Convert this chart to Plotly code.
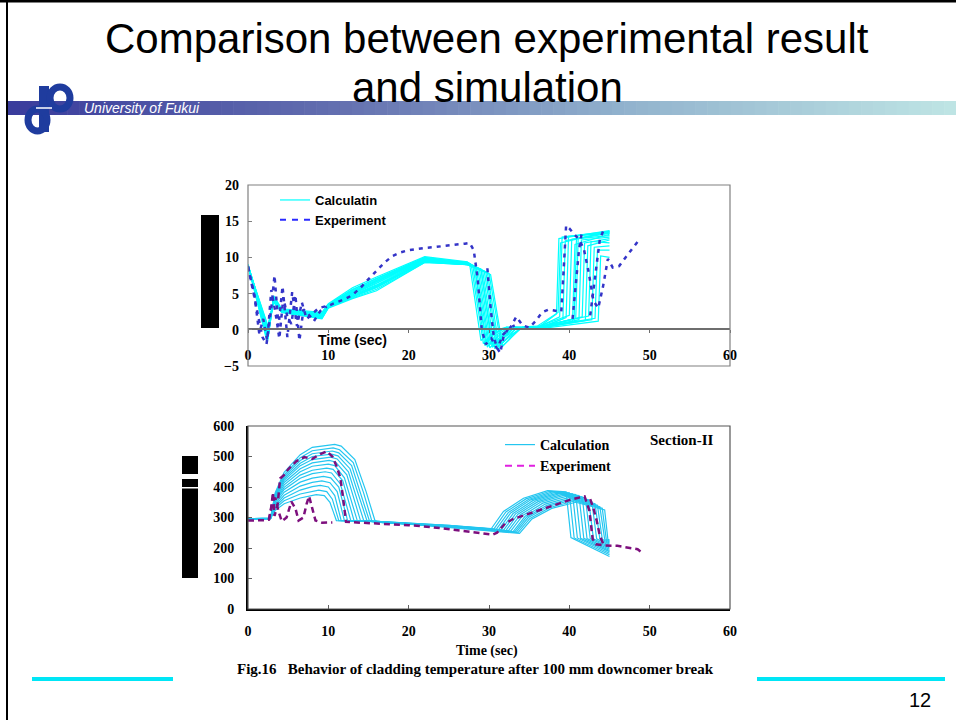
import plotly.graph_objects as go

# ------------------------------------------------------------------ data
time_ticks = [0, 10, 20, 30, 40, 50, 60]
top_ticks = [-5, 0, 5, 10, 15, 20]
bottom_ticks = [0, 100, 200, 300, 400, 500, 600]

# upper panel: calculated curves, (time, value) pairs
calc_top = [
    [(0, 9.0), (2.4, -1.8), (3.2, 4.7), (4.2, 2.9), (9.2, 2.4), (10, 3.6), (13, 5.8), (16, 7.3), (22, 10.1), (27.3, 9.4), (27.6, 9.0), (29.0, -1.5), (30.0, -0.3), (32, 0.3), (36, 0.2), (38.4, 2.2), (38.7, 12.6), (45, 13.7)],
    [(0, 8.9), (2.5, -1.2), (3.2, 4.5), (4.2, 2.8), (9.2, 2.2), (10, 3.5), (13, 5.5), (16, 7.1), (22, 10.0), (27.4, 9.3), (27.8, 8.9), (29.3, -1.9), (30.4, -0.5), (32, 0.2), (36, 0.3), (38.8, 1.8), (39.1, 12.8), (45, 13.6)],
    [(0, 8.8), (2.4, -0.8), (3.2, 4.4), (4.2, 2.7), (9.2, 2.0), (10, 3.4), (13, 5.2), (16, 6.8), (22, 9.8), (27.4, 9.3), (28.0, 8.8), (29.5, -2.2), (30.6, -0.6), (32.2, 0.4), (36, 0.2), (39.2, 1.5), (39.5, 12.3), (45, 13.5)],
    [(0, 8.9), (2.5, -0.4), (3.2, 4.3), (4.2, 2.6), (9.2, 1.9), (10, 3.3), (13, 5.0), (16, 6.5), (22, 9.7), (27.3, 9.2), (28.2, 8.7), (29.8, -2.4), (30.8, -0.8), (32.5, 0.3), (36, 0.1), (39.6, 1.7), (39.9, 12.9), (45, 13.4)],
    [(0, 9.0), (2.4, 0.0), (3.2, 4.2), (4.2, 2.6), (9.2, 1.8), (10, 3.2), (13, 4.8), (16, 6.2), (22, 9.6), (27.4, 9.2), (28.4, 8.6), (29.9, -2.0), (31.0, -1.0), (32.6, 0.2), (36, 0.4), (40.0, 2.0), (40.3, 12.5), (45, 13.3)],
    [(0, 8.8), (2.5, 0.3), (3.2, 4.0), (4.2, 2.5), (9.2, 1.7), (10, 3.1), (13, 4.6), (16, 6.0), (22, 9.5), (27.3, 9.1), (28.6, 8.5), (30.1, -2.5), (31.2, -1.2), (32.8, 0.3), (36, 0.2), (40.4, 1.2), (40.7, 11.8), (45, 13.2)],
    [(0, 8.9), (2.4, -1.5), (3.2, 4.6), (4.2, 2.8), (9.2, 2.3), (10, 3.5), (13, 5.6), (16, 7.0), (22, 9.9), (27.4, 9.3), (28.8, 8.4), (30.2, -2.0), (31.4, -1.5), (33.0, 0.2), (36, 0.3), (40.8, 1.6), (41.1, 12.6), (45, 13.0)],
    [(0, 9.0), (2.5, -1.0), (3.2, 4.4), (4.2, 2.7), (9.2, 2.1), (10, 3.4), (13, 5.3), (16, 6.7), (22, 9.8), (27.3, 9.2), (29.0, 8.3), (30.5, -2.3), (31.6, -1.0), (33.2, 0.4), (36, 0.1), (41.2, 1.4), (41.5, 12.4), (45, 12.8)],
    [(0, 8.8), (2.4, -0.6), (3.2, 4.3), (4.2, 2.6), (9.2, 1.9), (10, 3.3), (13, 4.9), (16, 6.4), (22, 9.6), (27.4, 9.1), (29.2, 8.2), (30.7, -2.6), (31.8, -1.6), (33.4, 0.2), (36, 0.3), (41.6, 1.8), (41.9, 12.0), (45, 12.6)],
    [(0, 8.9), (2.5, -0.2), (3.2, 4.1), (4.2, 2.5), (9.2, 1.8), (10, 3.2), (13, 4.7), (16, 6.1), (22, 9.5), (27.3, 9.0), (29.4, 8.1), (30.9, -2.1), (32.0, -1.0), (33.6, 0.3), (36, 0.2), (42.0, 1.3), (42.3, 11.6), (45, 12.4)],
    [(0, 9.0), (2.4, 0.2), (3.2, 3.9), (4.2, 2.5), (9.2, 1.6), (10, 3.1), (13, 4.5), (16, 5.8), (22, 9.4), (27.4, 9.0), (29.6, 8.0), (31.1, -2.4), (32.2, -1.3), (33.8, 0.1), (36, 0.4), (42.4, 1.9), (42.7, 12.2), (45, 12.0)],
    [(0, 8.8), (2.5, 0.5), (3.2, 3.8), (4.2, 2.4), (9.2, 1.5), (10, 3.0), (13, 4.3), (16, 5.4), (22, 9.3), (27.3, 9.0), (29.8, 7.9), (31.3, -2.6), (32.4, -1.5), (34.0, 0.3), (36, 0.2), (42.8, 1.4), (43.1, 11.4), (45, 11.6)],
    [(0, 8.9), (2.4, -1.2), (3.2, 4.5), (4.2, 2.7), (9.2, 2.2), (10, 3.4), (13, 5.4), (16, 6.9), (22, 9.9), (27.4, 9.2), (30.0, 7.8), (31.5, -2.0), (32.6, -0.8), (34.0, 0.2), (36, 0.3), (43.2, 1.6), (43.5, 11.0), (45, 11.0)],
    [(0, 9.0), (2.5, -0.9), (3.2, 4.2), (4.2, 2.6), (9.2, 2.0), (10, 3.3), (13, 5.1), (16, 6.6), (22, 9.7), (27.3, 9.1), (30.2, 7.6), (31.7, -2.3), (32.8, -1.0), (34.2, 0.4), (36, 0.1), (43.6, 1.2), (43.9, 10.2), (45, 10.0)],
    [(0, 8.8), (2.4, -0.3), (3.2, 4.0), (4.2, 2.5), (9.2, 1.7), (10, 3.2), (13, 4.6), (16, 5.9), (22, 9.4), (27.4, 9.0), (28.2, 8.8), (29.6, -1.8), (30.8, -0.4), (32.3, 0.3), (36, 0.5), (38.6, 2.4), (38.9, 12.0), (45, 13.6)],
    [(0, 8.9), (2.5, 0.1), (3.2, 3.9), (4.2, 2.4), (9.2, 1.6), (10, 3.1), (13, 4.4), (16, 5.6), (22, 9.3), (27.3, 9.0), (29.0, 8.4), (30.4, -2.4), (31.5, -1.4), (33.1, 0.2), (36, 0.2), (40.6, 1.5), (40.9, 13.0), (45, 13.4)],
]

# upper panel: measured traces (several thermocouple segments)
exp_top = [
    [(0, 8.8), (0.6, 5.5), (1.2, 2.0), (1.8, -1.0), (2.3, -2.0), (2.9, 3.0), (3.3, 7.5), (3.8, 0.5), (4.3, 6.0), (4.9, -1.0), (5.5, 5.2), (6.1, 0.5), (6.7, 3.8), (7.3, 1.5), (8.0, 2.2), (8.8, 3.0), (9.5, 3.2), (10.2, 3.4), (11, 3.8), (12, 4.2), (13, 4.8), (14, 5.8), (15, 7.0), (16, 8.2), (17, 9.3), (18, 10.2), (19, 10.7), (20, 11.0), (21, 11.2), (22, 11.3), (23, 11.4), (24, 11.5), (25, 11.6), (26, 11.8), (27, 11.9), (27.6, 12.0), (28.1, 11.0), (28.6, 7.0), (29.1, 0.0), (29.6, -2.0), (30.3, -1.2), (31.0, -2.6), (31.8, -0.6), (32.6, 0.2), (33.4, 1.8), (34.2, 0.6), (35.0, 0.3), (35.8, 1.2), (36.6, 2.4), (37.4, 2.8), (38.2, 2.6), (39.0, 2.5), (39.6, 14.4), (40.0, 14.0), (40.6, 13.2), (41.2, 12.5), (41.8, 11.2), (42.4, 8.0), (43.0, 4.0), (43.6, 3.0), (44.2, 6.0), (44.8, 9.8), (45.4, 8.6), (46.2, 8.8), (47.0, 10.0), (47.8, 11.2), (48.6, 12.3)],
    [(0, 8.6), (0.8, 4.8), (1.4, -0.5), (1.9, 1.5), (2.4, -1.5), (2.9, 5.5), (3.4, 2.5), (3.9, -1.2), (4.4, 4.5), (4.9, 1.8), (5.4, 0.8), (5.9, 4.8), (6.4, -1.5), (6.9, 2.8), (7.5, 2.2), (8.2, 1.2), (9.0, 2.6), (9.8, 3.2)],
    [(29.8, 8.5), (30.2, 3.0), (30.6, -1.0), (31.0, -2.5), (31.4, -3.2), (31.8, -1.0), (32.4, 0.2), (33.2, 0.6)],
    [(40.4, 1.5), (40.8, 6.0), (41.2, 11.0), (41.6, 13.8)],
    [(42.6, 2.0), (43.0, 5.5), (43.4, 9.5), (43.8, 12.5), (44.2, 13.6)],
]

# lower panel: calculated curves, (time, temperature) pairs
calc_bottom = [
    [(0, 295), (2.8, 297), (3.4, 324), (4.5, 345), (6.5, 364), (8, 372), (8.5, 375), (9.5, 372), (10.2, 350), (10.6, 320), (11.0, 290), (16, 287), (20, 282), (25, 274), (30.3, 264), (31.8, 320), (34.3, 363), (37.3, 388), (39.6, 384), (40.2, 234), (45, 172)],
    [(0, 295), (2.8, 297), (3.4, 330), (4.5, 355), (6.5, 377), (8, 386), (8.8, 390), (9.8, 385), (10.5, 360), (10.9, 325), (11.3, 290), (16, 287), (20, 282), (25, 274), (30.6, 262), (32.1, 318), (34.6, 361), (37.6, 386), (40.0, 381), (40.6, 233), (45, 178)],
    [(0, 294), (2.8, 296), (3.4, 335), (4.5, 364), (6.5, 390), (8, 401), (9.0, 405), (10.0, 400), (10.8, 372), (11.2, 330), (11.6, 290), (16, 286), (20, 281), (25, 273), (30.9, 261), (32.4, 316), (34.9, 359), (37.9, 384), (40.4, 378), (41.0, 233), (45, 183)],
    [(0, 296), (2.8, 298), (3.4, 340), (4.5, 373), (6.5, 403), (8, 415), (9.2, 420), (10.2, 414), (11.1, 385), (11.6, 335), (12.0, 290), (16, 287), (20, 281), (25, 273), (31.2, 260), (32.7, 315), (35.2, 358), (38.2, 382), (40.8, 375), (41.4, 232), (45, 188)],
    [(0, 295), (2.8, 297), (3.4, 345), (4.5, 383), (6.5, 416), (8, 429), (9.4, 435), (10.3, 430), (11.3, 400), (11.9, 340), (12.4, 290), (16, 286), (20, 281), (25, 273), (31.5, 259), (33.0, 313), (35.5, 356), (38.5, 380), (41.2, 372), (41.8, 232), (45, 192)],
    [(0, 295), (2.8, 297), (3.4, 351), (4.5, 392), (6.5, 429), (8, 444), (9.6, 450), (10.4, 446), (11.5, 410), (12.2, 345), (12.8, 290), (16, 286), (20, 280), (25, 272), (31.8, 258), (33.3, 312), (35.8, 354), (38.8, 378), (41.6, 368), (42.2, 231), (45, 196)],
    [(0, 294), (2.8, 296), (3.4, 355), (4.5, 399), (6.5, 439), (8, 455), (9.8, 462), (10.6, 458), (11.8, 420), (12.6, 350), (13.2, 290), (16, 286), (20, 280), (25, 272), (32.1, 257), (33.6, 311), (36.1, 352), (39.1, 376), (42.0, 364), (42.6, 231), (45, 200)],
    [(0, 296), (2.8, 298), (3.4, 359), (4.5, 407), (6.5, 450), (8, 468), (10.0, 475), (10.8, 470), (12.0, 430), (12.9, 355), (13.6, 290), (16, 286), (20, 280), (25, 271), (32.4, 256), (33.9, 309), (36.4, 350), (39.4, 373), (42.4, 358), (43.0, 230), (45, 204)],
    [(0, 295), (2.8, 297), (3.4, 364), (4.5, 415), (6.5, 460), (8, 479), (10.1, 487), (10.9, 482), (12.3, 440), (13.2, 360), (14.0, 290), (16, 286), (20, 280), (25, 271), (32.7, 255), (34.2, 307), (36.7, 347), (39.7, 370), (42.8, 352), (43.4, 230), (45, 208)],
    [(0, 295), (2.8, 297), (3.4, 367), (4.5, 422), (6.5, 470), (8, 490), (10.3, 498), (11.1, 492), (12.5, 450), (13.5, 365), (14.4, 290), (16, 285), (20, 279), (25, 270), (33.0, 254), (34.5, 304), (37.0, 344), (40.0, 366), (43.2, 345), (43.8, 229), (45, 212)],
    [(0, 294), (2.8, 296), (3.4, 371), (4.5, 428), (6.5, 478), (8, 500), (10.4, 508), (11.2, 502), (12.7, 460), (13.8, 370), (14.8, 290), (16, 285), (20, 279), (25, 270), (33.2, 253), (34.7, 302), (37.2, 340), (40.2, 362), (43.5, 340), (44.1, 229), (45, 216)],
    [(0, 296), (2.8, 298), (3.4, 374), (4.5, 434), (6.5, 487), (8, 509), (10.5, 518), (11.3, 512), (12.9, 470), (14.1, 375), (15.1, 290), (16, 285), (20, 279), (25, 269), (33.4, 252), (34.9, 300), (37.4, 337), (40.4, 358), (43.8, 335), (44.4, 228), (45, 220)],
    [(0, 295), (2.8, 297), (3.4, 378), (4.5, 440), (6.5, 496), (8, 519), (10.6, 528), (11.4, 522), (13.1, 480), (14.4, 380), (15.4, 290), (16, 285), (20, 278), (25, 269), (33.6, 250), (35.1, 297), (37.6, 333), (40.6, 354), (44.1, 330), (44.6, 228), (45, 224)],
    [(0, 295), (2.8, 297), (3.4, 382), (4.5, 448), (6.5, 506), (8, 530), (10.8, 540), (11.6, 534), (13.3, 490), (14.7, 385), (15.8, 290), (16.2, 287), (20, 278), (25, 268), (33.8, 248), (35.3, 294), (37.8, 330), (40.8, 350), (44.4, 325), (44.8, 228), (45, 227)],
]

# lower panel: measured traces
exp_bottom = [
    [(0, 290), (1, 290), (2, 291), (2.6, 293), (2.9, 330), (3.1, 382), (3.3, 305), (3.7, 345), (4.0, 428), (4.5, 440), (5, 458), (6, 484), (7, 498), (8, 492), (9, 508), (9.8, 517), (10.5, 500), (11, 470), (11.5, 430), (11.9, 350), (12.2, 286), (14, 283), (17, 280), (20, 275), (23, 268), (26, 258), (29, 250), (30.5, 244), (31, 250), (32, 280), (33, 295), (34, 304), (35, 314), (36, 322), (37, 332), (38, 341), (39, 349), (40, 357), (41, 364), (41.9, 369), (42.5, 322), (42.9, 230), (43.3, 212), (44.5, 208), (46, 207), (47.5, 200), (48.5, 196), (49, 186)],
    [(2.6, 292), (3.0, 350), (3.4, 365), (3.8, 320), (4.2, 288), (4.8, 300), (5.4, 352), (5.9, 330), (6.3, 290), (6.9, 300), (7.3, 345), (7.6, 370), (8.0, 330), (8.4, 290), (9.2, 283), (10.5, 284)],
    [(42.6, 360), (43.0, 330), (43.4, 290), (43.8, 240), (44.2, 215)],
]

# ------------------------------------------------------------------ styling
W, H = 956, 720
CYAN_TOP = "#00ffff"
CYAN_BOT = "#24c6f0"
EXP_TOP = "#3434c8"
EXP_TOP_LEG = "#2a2aff"
EXP_BOT = "#7d0f7d"
EXP_BOT_LEG = "#e020e0"
SERIF = "Liberation Serif"
SANS = "Liberation Sans"


def px(x):
    return x / W


def py(y):
    return 1 - y / H


fig = go.Figure()

# upper panel traces
for i, c in enumerate(calc_top):
    fig.add_trace(go.Scatter(
        x=[p[0] for p in c], y=[p[1] for p in c], mode="lines",
        line=dict(color=CYAN_TOP, width=1.2), xaxis="x", yaxis="y",
        name="<b>Calculatin</b>", legend="legend", showlegend=(i == 0),
        hoverinfo="skip"))
for s in exp_top:
    fig.add_trace(go.Scatter(
        x=[p[0] for p in s], y=[p[1] for p in s], mode="lines",
        line=dict(color=EXP_TOP, width=2.5, dash="4px,5px"), xaxis="x", yaxis="y",
        showlegend=False, hoverinfo="skip"))
fig.add_trace(go.Scatter(
    x=[None], y=[None], mode="lines", xaxis="x", yaxis="y",
    line=dict(color=EXP_TOP_LEG, width=2, dash="6px,6px"),
    name="<b>Experiment</b>", legend="legend", showlegend=True))

# lower panel traces
for i, c in enumerate(calc_bottom):
    fig.add_trace(go.Scatter(
        x=[p[0] for p in c], y=[p[1] for p in c], mode="lines",
        line=dict(color=CYAN_BOT, width=1.2), xaxis="x2", yaxis="y2",
        name="<b>Calculation</b>", legend="legend2", showlegend=(i == 0),
        hoverinfo="skip"))
for s in exp_bottom:
    fig.add_trace(go.Scatter(
        x=[p[0] for p in s], y=[p[1] for p in s], mode="lines",
        line=dict(color=EXP_BOT, width=2.5, dash="6px,4px"), xaxis="x2", yaxis="y2",
        showlegend=False, hoverinfo="skip"))
fig.add_trace(go.Scatter(
    x=[None], y=[None], mode="lines", xaxis="x2", yaxis="y2",
    line=dict(color=EXP_BOT_LEG, width=2, dash="7px,5px"),
    name="<b>Experiment</b>", legend="legend2", showlegend=True))

# invisible pixel-space axes for slide decorations
fig.add_trace(go.Scatter(x=[None], y=[None], xaxis="x3", yaxis="y3",
                         showlegend=False, hoverinfo="skip"))

tick_font_serif = dict(family=SERIF, size=14, color="black", weight="bold")

layout = dict(
    width=W, height=H, margin=dict(l=0, r=0, t=0, b=0, autoexpand=False),
    paper_bgcolor="white", plot_bgcolor="rgba(0,0,0,0)",
    xaxis=dict(domain=[px(248), px(730)], range=[0, 60], anchor="free",
               position=py(329), showline=True, linecolor="#6e6e6e", linewidth=2,
               ticks="outside", ticklen=3, tickcolor="#6e6e6e", tickvals=time_ticks,
               tickfont=tick_font_serif, ticklabelstandoff=10,
               showgrid=False, zeroline=False, fixedrange=True),
    yaxis=dict(domain=[py(366), py(185)], range=[-5, 20], anchor="x",
               showline=False, ticks="inside", ticklen=4, tickcolor="#808080",
               tickvals=top_ticks, tickfont=tick_font_serif, ticklabelstandoff=8,
               showgrid=False, zeroline=False, fixedrange=True),
    xaxis2=dict(domain=[px(248), px(730)], range=[0, 60], anchor="y2",
                showline=True, linecolor="black", linewidth=1.5,
                ticks="inside", ticklen=4, tickcolor="#606060", tickvals=time_ticks,
                tickfont=tick_font_serif, ticklabelstandoff=8,
                showgrid=False, zeroline=False, fixedrange=True),
    yaxis2=dict(domain=[py(609), py(426)], range=[0, 600], anchor="x2",
                showline=True, linecolor="black", linewidth=2,
                ticks="inside", ticklen=4, tickcolor="#606060", tickvals=bottom_ticks,
                tickfont=tick_font_serif, ticklabelstandoff=9,
                showgrid=False, zeroline=False, fixedrange=True),
    xaxis3=dict(domain=[0, 1], range=[0, W], visible=False, anchor="y3",
                fixedrange=True),
    yaxis3=dict(domain=[0, 1], range=[H, 0], visible=False, anchor="x3",
                fixedrange=True),
    legend=dict(x=px(275), y=py(185), xanchor="left", yanchor="top",
                bgcolor="rgba(0,0,0,0)", font=dict(family=SANS, size=13, color="black"),
                tracegroupgap=0, itemwidth=30),
    legend2=dict(x=px(500), y=py(429), xanchor="left", yanchor="top",
                 bgcolor="rgba(0,0,0,0)", font=dict(family=SERIF, size=14, color="black"),
                 tracegroupgap=0, itemwidth=30),
)
fig.update_layout(**layout)

shapes = []
# panel frames
shapes.append(dict(type="rect", xref="x domain", yref="y domain", x0=0, x1=1, y0=0, y1=1,
                   line=dict(color="#808080", width=1.2)))
shapes.append(dict(type="rect", xref="x2 domain", yref="y2 domain", x0=0, x1=1, y0=0, y1=1,
                   line=dict(color="#555555", width=1.2)))

# slide border
shapes.append(dict(type="line", xref="x3", yref="y3", x0=0, x1=W, y0=1, y1=1,
                   line=dict(color="black", width=3)))
shapes.append(dict(type="line", xref="x3", yref="y3", x0=7, x1=7, y0=0, y1=H,
                   line=dict(color="black", width=2)))

# gradient header bar
stops = [(0.0, (58, 60, 156)), (0.35, (100, 112, 176)), (0.65, (145, 178, 205)), (1.0, (190, 228, 228))]


def grad(f):
    for (f0, c0), (f1, c1) in zip(stops[:-1], stops[1:]):
        if f0 <= f <= f1:
            t = (f - f0) / (f1 - f0)
            return "rgb(%d,%d,%d)" % tuple(round(a + (b - a) * t) for a, b in zip(c0, c1))
    return "rgb(190,228,228)"


nseg = 80
x_start, x_end = 8, W
for k in range(nseg):
    xa = x_start + (x_end - x_start) * k / nseg
    xb = x_start + (x_end - x_start) * (k + 1) / nseg + 0.6
    shapes.append(dict(type="rect", xref="x3", yref="y3", x0=xa, x1=xb, y0=101, y1=115,
                       line=dict(width=0), fillcolor=grad(k / (nseg - 1))))

# logo
LOGO = "#1f3c9e"
shapes.append(dict(type="rect", xref="x3", yref="y3", x0=39, x1=49, y0=86, y1=132,
                   line=dict(width=0), fillcolor=LOGO))
shapes.append(dict(type="circle", xref="x3", yref="y3", x0=50, x1=70, y0=87, y1=109,
                   line=dict(color=LOGO, width=7)))
shapes.append(dict(type="circle", xref="x3", yref="y3", x0=28, x1=47, y0=109, y1=131,
                   line=dict(color=LOGO, width=7)))
shapes.append(dict(type="line", xref="x3", yref="y3", x0=36, x1=52, y0=108, y1=108,
                   line=dict(color="white", width=1.5)))

# black masks over axis titles
for (x0, x1, y0, y1) in [(201, 219, 215, 328), (182, 198, 456, 474), (182, 198, 479, 487),
                         (182, 198, 488.5, 578)]:
    shapes.append(dict(type="rect", xref="x3", yref="y3", x0=x0, x1=x1, y0=y0, y1=y1,
                       line=dict(width=0), fillcolor="black"))

# cyan footer lines
for (x0, x1) in [(32, 173), (757, 945)]:
    shapes.append(dict(type="line", xref="x3", yref="y3", x0=x0, x1=x1, y0=679, y1=679,
                       line=dict(color="#00e6f6", width=4)))

fig.update_layout(shapes=shapes)

ann = []


def add_text(x, y, text, family, size, color="black", xanchor="center", weight="normal", style="normal"):
    ann.append(dict(xref="x3", yref="y3", x=x, y=y, text=text, showarrow=False,
                    xanchor=xanchor, yanchor="middle",
                    font=dict(family=family, size=size, color=color, weight=weight, style=style)))


add_text(487, 38, "Comparison between experimental result", SANS, 42)
add_text(487, 87, "and simulation", SANS, 42)
add_text(82, 108, "University of Fukui", SANS, 14, color="white", xanchor="left", style="italic")
add_text(352, 339.5, "Time (sec)", SANS, 14, weight="bold")
add_text(681, 440, "Section-II", SERIF, 15, weight="bold")
add_text(487, 651, "Time (sec)", SERIF, 14, weight="bold")
add_text(475, 669, "Fig.16\u00a0\u00a0\u00a0Behavior of cladding temperature after 100 mm downcomer break",
         SERIF, 15, weight="bold")
add_text(920, 700, "12", SANS, 20)

fig.update_layout(annotations=ann)

fig.write_html("out.html", config={"displayModeBar": False},
               post_script="document.body.style.margin='0';document.body.style.padding='0';")
